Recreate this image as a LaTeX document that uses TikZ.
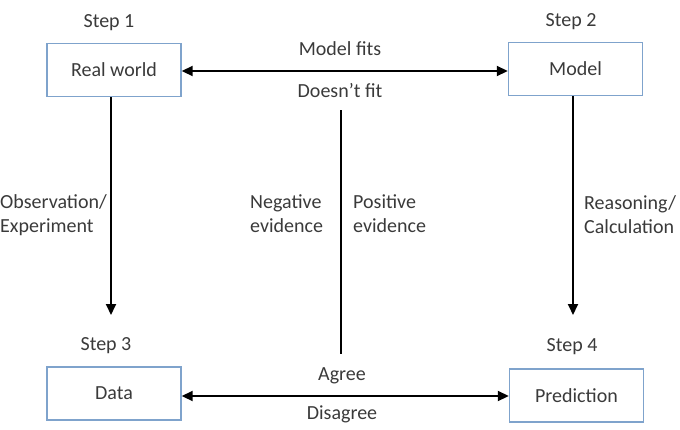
\documentclass[tikz,border=0pt]{standalone}
\usepackage{fontspec}
\setmainfont{Carlito}
\usetikzlibrary{arrows.meta}
\definecolor{boxblue}{HTML}{7FA3CC}
\definecolor{txt}{HTML}{3A3A3A}
\begin{document}
\begin{tikzpicture}[x=1pt,y=-1pt,
  stepbox/.style={draw=boxblue,line width=1.4pt,minimum width=134pt,minimum height=53pt,inner sep=0pt,text=txt,font=\fontsize{20}{24}\selectfont},
  lbl/.style={text=txt,font=\fontsize{20}{24}\selectfont,inner sep=0pt},
  conn/.style={line width=1.8pt,draw=black},
  hd/.tip={Triangle[length=11pt,width=10pt]},
  tip/.style={-hd}]
\useasboundingbox (0,0) rectangle (680,429);
\node[stepbox] (rw) at (114,70) {Real world};
\node[stepbox] (mo) at (575.5,69) {Model};
\node[stepbox] (da) at (114,393.5) {Data};
\node[stepbox] (pr) at (576.5,395.5) {Prediction};
\node[lbl] (s1) at (109,23) {Step 1};
\node[lbl] (s2) at (571,22) {Step 2};
\node[lbl] (s3) at (106,346) {Step 3};
\node[lbl] (s4) at (572,347) {Step 4};
\draw[conn,hd-hd] (rw.east |- 0,71) -- (mo.west |- 0,71);
\node[lbl] (mf) at (340,49) {Model fits};
\node[lbl] (df) at (340,91) {Doesn’t fit};
\draw[conn,hd-hd] (da.east |- 0,396) -- (pr.west |- 0,396);
\node[lbl] (ag) at (342,376) {Agree};
\node[lbl] (dis) at (342,414) {Disagree};
\coordinate (la) at (111,315);
\coordinate (ra) at (573,315);
\draw[conn,tip] (rw.south -| 111,0) -- (la);
\draw[conn,tip] (mo.south -| 573,0) -- (ra);
\coordinate (mt) at (341,110);
\coordinate (mb) at (341,354);
\draw[conn] (mt) -- (mb);
\node[lbl,align=left,anchor=west] (oe) at (0,215) {Observation/\\Experiment};
\node[lbl,align=left,anchor=west] (rc) at (584,215) {Reasoning/\\Calculation};
\node[lbl,align=left,anchor=west] (ne) at (250,214) {Negative\\evidence};
\node[lbl,align=left,anchor=west] (pe) at (353,214) {Positive\\evidence};
\end{tikzpicture}
\end{document}
